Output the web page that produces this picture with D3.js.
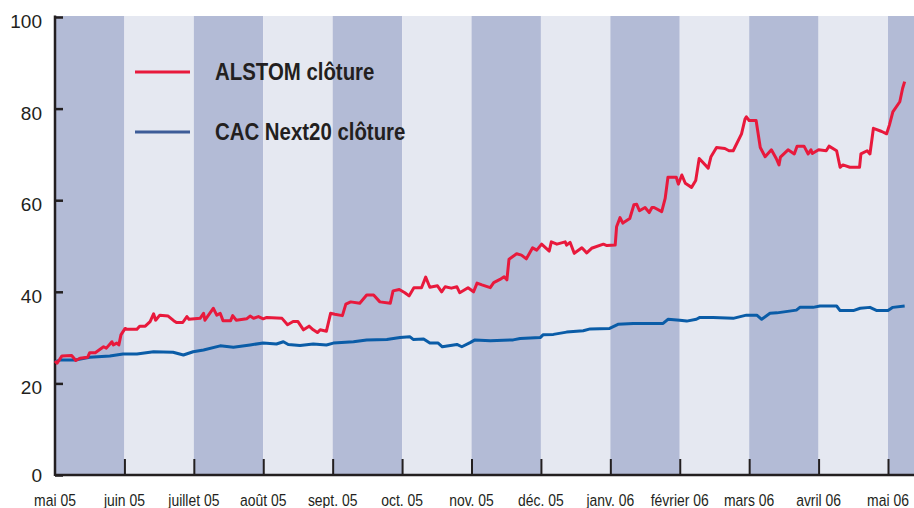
<!DOCTYPE html>
<html>
<head>
<meta charset="utf-8">
<script src="https://cdn.jsdelivr.net/npm/d3@7"></script>
<style>
  html, body { margin: 0; padding: 0; background: #fff; }
  svg { display: block; }
</style>
</head>
<body>
<svg id="canvas" width="914" height="508"></svg>
<script>
// months on the x axis (each month gets the same width, like the original)
var months = ['mai 05', 'juin 05', 'juillet 05', 'août 05', 'sept. 05', 'oct. 05', 'nov. 05',
  'déc. 05', 'janv. 06', 'février 06', 'mars 06', 'avril 06', 'mai 06']
var yTicks = [0, 20, 40, 60, 80, 100]
var seriesNames = ['ALSTOM clôture', 'CAC Next20 clôture']

// t = months elapsed since 1 May 2005, v = closing value
var alstomT = [0.00, 0.03, 0.10, 0.24, 0.30, 0.36, 0.47, 0.50, 0.58, 0.70, 0.74, 0.82, 0.84, 0.89, 0.92, 0.95,
  1.01, 1.04, 1.18, 1.22, 1.30, 1.37, 1.42, 1.45, 1.51, 1.63, 1.71, 1.75, 1.84, 1.90, 1.93, 2.09,
  2.14, 2.16, 2.28, 2.33, 2.38, 2.42, 2.53, 2.56, 2.61, 2.76, 2.81, 2.86, 2.93, 3.00, 3.05, 3.27,
  3.35, 3.43, 3.50, 3.58, 3.66, 3.72, 3.78, 3.82, 3.91, 3.97, 4.03, 4.14, 4.19, 4.26, 4.39, 4.49,
  4.59, 4.68, 4.83, 4.87, 4.96, 5.04, 5.10, 5.17, 5.28, 5.34, 5.40, 5.51, 5.57, 5.62, 5.71, 5.79,
  5.83, 5.95, 6.03, 6.08, 6.15, 6.27, 6.32, 6.41, 6.47, 6.51, 6.54, 6.65, 6.72, 6.79, 6.88, 6.94,
  7.01, 7.12, 7.15, 7.23, 7.35, 7.37, 7.42, 7.48, 7.59, 7.66, 7.73, 7.90, 7.95, 8.07, 8.09, 8.14,
  8.18, 8.28, 8.34, 8.38, 8.42, 8.50, 8.56, 8.60, 8.63, 8.74, 8.79, 8.83, 8.95, 8.98, 9.03, 9.08,
  9.17, 9.23, 9.28, 9.41, 9.45, 9.53, 9.65, 9.71, 9.77, 9.89, 9.94, 9.96, 10.00, 10.10, 10.16, 10.23,
  10.32, 10.39, 10.43, 10.45, 10.56, 10.65, 10.69, 10.79, 10.85, 10.89, 10.91, 11.00, 11.11, 11.15, 11.26, 11.31,
  11.35, 11.45, 11.59, 11.61, 11.70, 11.74, 11.79, 11.91, 11.98, 12.02, 12.07, 12.17, 12.21, 12.24]
var alstomV = [24.9, 24.4, 26.0, 26.1, 25.0, 25.5, 25.7, 26.7, 26.7, 28.0, 27.7, 29.1, 28.4, 28.8, 28.4, 30.6,
  32.0, 31.8, 31.8, 32.5, 32.5, 33.5, 35.2, 33.8, 34.9, 34.7, 33.7, 33.3, 33.3, 34.6, 34.0, 34.2,
  35.3, 33.8, 36.4, 34.9, 35.3, 33.7, 33.7, 34.8, 33.8, 34.1, 34.7, 34.2, 34.6, 34.1, 34.4, 34.2,
  32.8, 33.5, 33.5, 31.7, 32.5, 31.7, 31.1, 31.7, 31.4, 35.3, 35.1, 34.8, 37.3, 37.8, 37.5, 39.3,
  39.3, 37.8, 37.5, 40.2, 40.5, 39.8, 39.1, 40.9, 40.9, 43.2, 41.0, 41.3, 40.0, 41.1, 40.8, 41.1,
  39.8, 40.9, 40.0, 41.9, 41.5, 40.9, 42.0, 42.7, 43.3, 42.6, 47.1, 48.3, 48.0, 47.2, 49.6, 49.1,
  50.4, 48.9, 50.9, 50.4, 50.9, 50.2, 50.8, 48.4, 49.6, 48.5, 49.5, 50.4, 50.1, 50.2, 54.2, 56.2,
  55.0, 56.0, 59.0, 59.1, 57.7, 58.4, 57.3, 58.4, 58.4, 57.5, 60.4, 65.0, 65.0, 63.5, 65.5, 63.7,
  62.8, 64.3, 69.1, 67.0, 69.5, 71.5, 71.3, 70.8, 70.8, 74.5, 77.7, 78.2, 77.4, 77.4, 71.5, 69.5,
  71.0, 69.1, 67.7, 69.4, 71.0, 70.1, 71.8, 71.8, 70.1, 71.0, 70.2, 71.0, 70.8, 71.8, 70.8, 67.2,
  67.7, 67.2, 67.2, 70.1, 70.8, 70.1, 75.7, 75.0, 74.5, 76.4, 79.3, 81.5, 84.4, 85.9]

var cacT = [0.00, 0.07, 0.29, 0.50, 0.79, 0.98, 1.18, 1.42, 1.70, 1.85, 1.99, 2.14, 2.38, 2.57, 2.81, 3.00,
  3.19, 3.29, 3.36, 3.53, 3.72, 3.91, 4.01, 4.30, 4.49, 4.78, 4.97, 5.11, 5.16, 5.31, 5.40, 5.52,
  5.58, 5.79, 5.86, 5.98, 6.05, 6.27, 6.60, 6.70, 6.99, 7.03, 7.18, 7.37, 7.61, 7.71, 7.99, 8.11,
  8.33, 8.57, 8.76, 8.83, 9.00, 9.10, 9.24, 9.29, 9.48, 9.77, 9.96, 10.11, 10.18, 10.30, 10.40, 10.68,
  10.73, 10.92, 11.02, 11.26, 11.31, 11.50, 11.60, 11.74, 11.84, 12.00, 12.07, 12.24]
var cacV = [24.7, 25.1, 25.1, 25.7, 26.0, 26.4, 26.4, 26.9, 26.8, 26.2, 26.9, 27.3, 28.2, 27.9, 28.4, 28.8,
  28.6, 29.1, 28.5, 28.3, 28.6, 28.4, 28.8, 29.1, 29.5, 29.6, 30.0, 30.2, 29.6, 29.7, 28.8, 28.8,
  28.0, 28.5, 28.0, 28.9, 29.5, 29.3, 29.5, 29.8, 30.0, 30.6, 30.7, 31.2, 31.5, 31.9, 32.0, 32.9,
  33.1, 33.1, 33.1, 34.0, 33.8, 33.6, 34.0, 34.4, 34.4, 34.2, 34.9, 34.9, 34.0, 35.3, 35.4, 36.0,
  36.6, 36.6, 36.9, 36.9, 35.9, 35.9, 36.4, 36.6, 35.9, 35.9, 36.6, 36.9]

var width = 914, height = 508
var plotLeft = 55, plotTop = 16, plotBottom = 475
var ink = '#231f20'
var narrow = 0.82 // squeeze Liberation Sans into a condensed face

var svg = d3.select('#canvas')

var x = d3.scaleLinear().domain([0, 12]).range([plotLeft, 888])
var tEnd = x.invert(width)
var y = d3.scaleLinear().domain([0, 100]).range([plotBottom, plotTop + 1])

// alternating month bands
svg.append('g')
  .selectAll('rect')
  .data(months)
  .enter()
  .append('rect')
  .attr('x', function(d, i) { return x(i) })
  .attr('y', plotTop)
  .attr('width', function(d, i) { return x(Math.min(i + 1, tEnd)) - x(i) })
  .attr('height', plotBottom - plotTop)
  .attr('fill', function(d, i) { return i % 2 == 0 ? '#b3bbd6' : '#e5e8f1' })

// x axis ticks (pointing up into the plot)
var xAxis = d3.axisBottom(x)
  .tickValues(d3.range(1, months.length))
  .tickSize(0)
  .tickFormat('')
var gx = svg.append('g').attr('transform', 'translate(0,' + plotBottom + ')').call(xAxis)
gx.select('.domain').remove()
gx.selectAll('.tick line')
  .attr('y1', -16).attr('y2', 0)
  .attr('stroke', ink).attr('stroke-width', 2)

svg.append('g')
  .selectAll('text')
  .data(months)
  .enter()
  .append('text')
  .attr('transform', function(d, i) { return 'translate(' + x(i) + ',506) scale(' + narrow + ',1)' })
  .attr('text-anchor', 'middle')
  .attr('font-family', '"Liberation Sans", Arial, sans-serif')
  .attr('font-size', 17)
  .attr('fill', ink)
  .text(function(d) { return d })

// y axis ticks
var yAxis = d3.axisRight(y).tickValues(yTicks).tickSize(8).tickFormat('')
var gy = svg.append('g').attr('transform', 'translate(' + plotLeft + ',0)').call(yAxis)
gy.select('.domain').remove()
gy.selectAll('.tick line').attr('stroke', ink).attr('stroke-width', 2.5)

svg.append('g')
  .selectAll('text')
  .data(yTicks)
  .enter()
  .append('text')
  .attr('x', 42)
  .attr('y', function(d) { return y(d) + (d == 0 ? 7 : 11) })
  .attr('text-anchor', 'end')
  .attr('font-family', '"Liberation Sans", Arial, sans-serif')
  .attr('font-size', 19)
  .attr('fill', ink)
  .text(function(d) { return d })

// axis lines
svg.append('line')
  .attr('x1', plotLeft).attr('x2', plotLeft).attr('y1', plotTop - 0.5).attr('y2', plotBottom + 1)
  .attr('stroke', ink).attr('stroke-width', 2.5)
svg.append('line')
  .attr('x1', plotLeft).attr('x2', width).attr('y1', plotBottom).attr('y2', plotBottom)
  .attr('stroke', ink).attr('stroke-width', 2.5)

// series lines
var line = d3.line()
  .x(function(d) { return x(d[0]) })
  .y(function(d) { return y(d[1]) })

var cac = d3.zip(cacT, cacV)
var alstom = d3.zip(alstomT, alstomV)

svg.append('path')
  .datum(cac)
  .attr('d', line)
  .attr('fill', 'none')
  .attr('stroke', '#0a5ca7')
  .attr('stroke-width', 3)
  .attr('stroke-linejoin', 'round')

svg.append('path')
  .datum(alstom)
  .attr('d', line)
  .attr('fill', 'none')
  .attr('stroke', '#e8193c')
  .attr('stroke-width', 3)
  .attr('stroke-linejoin', 'round')

// legend
var legend = svg.append('g')
var legendColors = ['#e8193c', '#3d5c98']
var legendY = [72, 132]
seriesNames.forEach(function(name, i) {
  legend.append('line')
    .attr('x1', 135).attr('x2', 190)
    .attr('y1', legendY[i]).attr('y2', legendY[i])
    .attr('stroke', legendColors[i]).attr('stroke-width', 3)
  legend.append('text')
    .attr('transform', 'translate(215,' + (legendY[i] + 8) + ') scale(0.85,1)')
    .attr('font-family', '"Liberation Sans", Arial, sans-serif')
    .attr('font-weight', 'bold')
    .attr('font-size', 24)
    .attr('fill', ink)
    .text(name)
})
</script>
</body>
</html>
